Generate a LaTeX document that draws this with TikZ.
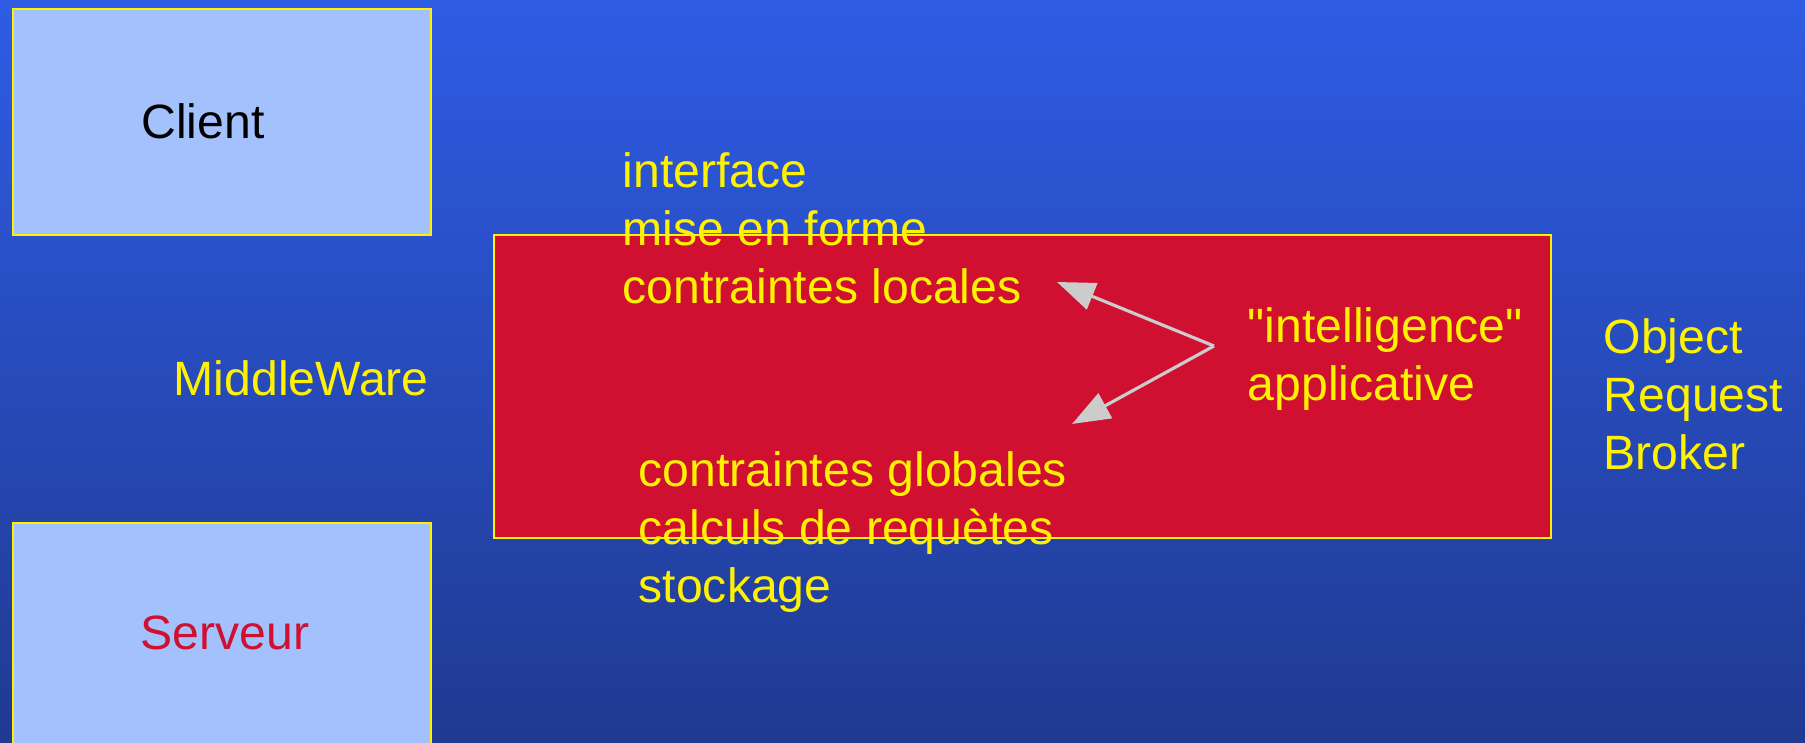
\documentclass[tikz,border=0pt]{standalone}
\usepackage{fontspec}
\setmainfont{Liberation Sans}
\newfontfamily\plainfont{Liberation Sans}
\usetikzlibrary{arrows.meta}

\definecolor{bgtop}{RGB}{46,92,229}
\definecolor{bgbottom}{RGB}{32,58,145}
\definecolor{paleblue}{RGB}{163,193,253}
\definecolor{orbred}{RGB}{208,16,48}
\definecolor{arrowgrey}{RGB}{204,204,204}

\tikzset{
    tier/.style={draw=yellow, line width=0.75pt, fill=paleblue, inner sep=0pt},
    orb/.style={draw=yellow, line width=0.75pt, fill=orbred, inner sep=0pt},
    label/.style={text=yellow, inner sep=0pt, align=left, anchor=west,
        font=\fontsize{13.7}{16.5}\selectfont},
    link/.style={draw=arrowgrey, line width=0.9pt,
        -{Triangle[length=3.8mm,width=2.8mm,fill=arrowgrey]}}
}

\begin{document}
\begin{tikzpicture}

    \useasboundingbox (0,0) rectangle (18.05,7.42);
    \shade[top color=bgtop, bottom color=bgbottom] (0,0) rectangle (18.05,7.42);

    % the two tiers and the broker
    \node[tier, minimum width=4.18cm, minimum height=2.26cm] (client) at (2.22,6.20) {};
    \node[tier, minimum width=4.18cm, minimum height=2.40cm] (serveur) at (2.22,0.99) {};
    \node[orb, minimum width=10.57cm, minimum height=3.03cm] (broker) at (10.225,3.555) {};

    \node[inner sep=0pt, font=\fontsize{13.7}{16.5}\selectfont] (clientname) at (2.03,6.21) {Client};
    \node[inner sep=0pt, text=orbred, font=\fontsize{13.7}{16.5}\selectfont] (serveurname) at (2.25,1.09) {Serveur};

    \node[label] (mw) at (1.73,3.64) {MiddleWare};
    \node[label] (local) at (6.22,5.14) {interface\\mise en forme\\contraintes locales};
    \node[label] (global) at (6.38,2.10) {contraintes globales\\calculs de requètes\\stockage};
    \node[label, font=\plainfont\fontsize{13.7}{16.5}\selectfont] (intel) at (12.47,3.83) {"intelligence"\\applicative};
    \node[label] (orbname) at (16.03,3.48) {Object\\Request\\Broker};

    % arrows from the application logic
    \coordinate (hub) at (12.14,3.96);
    \coordinate (up) at (10.57,4.60);
    \coordinate (down) at (10.72,3.18);
    \draw[link] (hub) -- (up);
    \draw[link] (hub) -- (down);

\end{tikzpicture}
\end{document}
